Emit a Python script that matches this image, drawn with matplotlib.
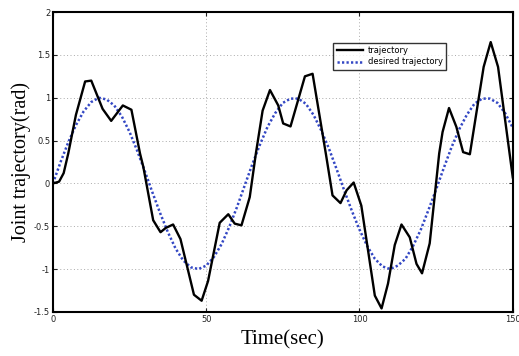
import matplotlib
matplotlib.use("Agg")
import matplotlib.pyplot as plt

traj_t = [0, 2, 3.5, 5, 7.5, 10.5, 12.5, 16.2, 19, 22.8, 25.6, 28.4, 29.5,
          32.7, 35.1, 36.8, 39.2, 41.6, 46, 48.5, 50.6, 54.4, 57.2, 59.3,
          61.5, 64.2, 66.2, 68.4, 70.8, 73.5, 75.1, 77.5, 82.2, 84.7, 89.1,
          91.2, 93.8, 95.8, 98.1, 100.6, 105, 107.2, 109.3, 111.5, 113.7,
          116.4, 118.6, 120.4, 122.9, 126, 127.1, 129.2, 131.6, 133.8, 136,
          140.5, 142.8, 145.2, 150]
traj_y = [0, 0.02, 0.12, 0.35, 0.8, 1.19, 1.2, 0.87, 0.73, 0.91, 0.86, 0.35,
          0.19, -0.43, -0.57, -0.52, -0.48, -0.65, -1.3, -1.37, -1.14, -0.46,
          -0.36, -0.47, -0.49, -0.16, 0.35, 0.85, 1.09, 0.91, 0.70, 0.665,
          1.25, 1.28, 0.33, -0.14, -0.23, -0.08, 0.01, -0.26, -1.31, -1.46,
          -1.17, -0.72, -0.48, -0.63, -0.94, -1.05, -0.70, 0.35, 0.60, 0.88,
          0.66, 0.365, 0.34, 1.36, 1.65, 1.36, 0.07]

# desired trajectory, read every 2.5 s
des_t = [i * 2.5 for i in range(61)]
des_y = [0, 0.25, 0.48, 0.68, 0.84, 0.95, 1.0, 0.98, 0.91, 0.78, 0.6, 0.38,
         0.14, -0.11, -0.35, -0.57, -0.76, -0.9, -0.98, -1.0, -0.96, -0.86,
         -0.71, -0.51, -0.28, -0.03, 0.22, 0.45, 0.66, 0.82, 0.94, 0.99, 0.99,
         0.93, 0.8, 0.62, 0.41, 0.17, -0.08, -0.32, -0.54, -0.73, -0.88,
         -0.97, -1.0, -0.96, -0.88, -0.73, -0.54, -0.31, -0.07, 0.18, 0.42,
         0.63, 0.8, 0.93, 0.99, 0.99, 0.94, 0.82, 0.65]

x_ticks = [0, 50, 100, 150]
y_ticks = [-1.5, -1, -0.5, 0, 0.5, 1, 1.5, 2]
y_tick_labels = ["-1.5", "-1", "-0.5", "0", "0.5", "1", "1.5", "2"]

fig = plt.figure(figsize=(5.19, 3.56), dpi=100)
ax = fig.add_axes([0.102, 0.124, 0.886, 0.842])

ax.plot(traj_t, traj_y, color="black", lw=1.7, label="trajectory", zorder=3)
ax.plot(des_t, des_y, color="#3347c4", lw=1.8, ls=(0, (0.9, 0.9)),
        label="desired trajectory", zorder=2)

ax.set_xlim(0, 150)
ax.set_ylim(-1.5, 2)
ax.set_xticks(x_ticks)
ax.set_yticks(y_ticks)
ax.set_yticklabels(y_tick_labels)
ax.tick_params(direction="in", top=True, right=True, length=3, width=0.8,
               labelsize=6, pad=2, colors="#222222")
ax.grid(True, color="#aaaaaa", ls=(0, (1, 2.5)), lw=0.7)

for s in ax.spines.values():
    s.set_linewidth(1.5)

ax.set_xlabel("Time(sec)", family="Liberation Serif", fontsize=15, labelpad=5)
ax.set_ylabel("Joint trajectory(rad)", family="Liberation Serif", fontsize=14.5,
              labelpad=2)

leg = ax.legend(loc="upper left", bbox_to_anchor=(0.6, 0.912), fontsize=6,
                frameon=True, fancybox=False, handlelength=3.2,
                borderpad=0.45, labelspacing=0.25, handletextpad=0.5)
leg.get_frame().set_edgecolor("black")
leg.get_frame().set_linewidth(1.0)

fig.savefig("out.png", dpi=100)
